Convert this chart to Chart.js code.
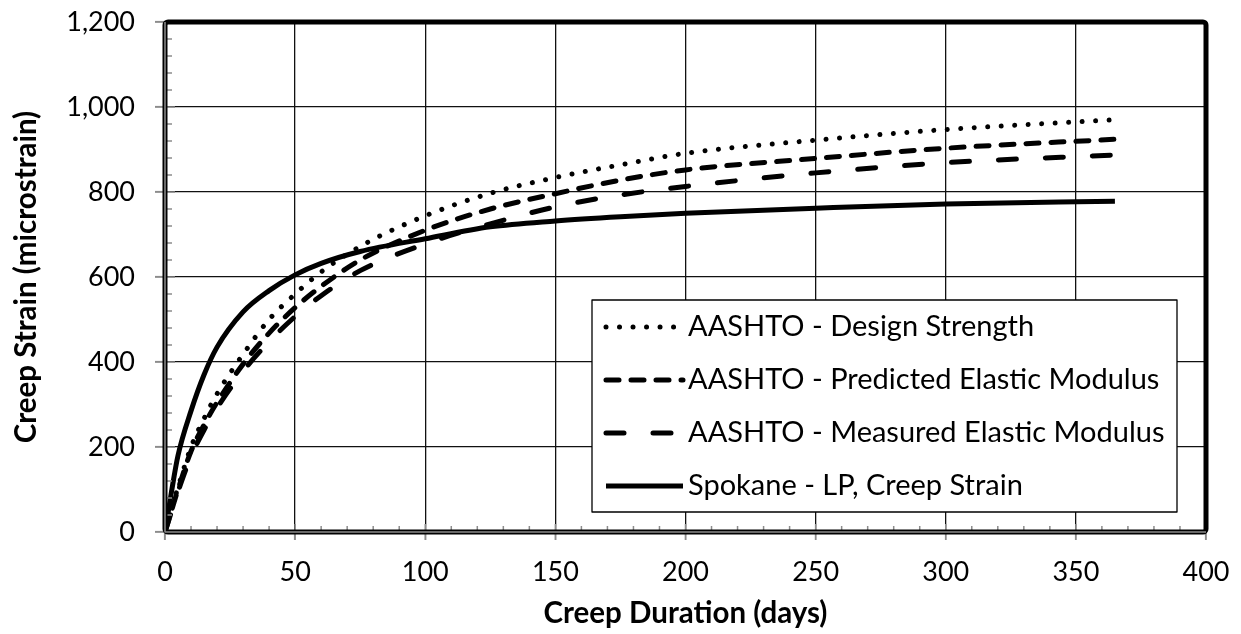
<!DOCTYPE html>
<html>
<head>
<meta charset="utf-8">
<script src="https://cdn.jsdelivr.net/npm/chart.js@4.4.0/dist/chart.umd.min.js"></script>
<style>
html, body { margin: 0; padding: 0; background: #fff; }
</style>
</head>
<body>
<canvas id="myChart" width="1241" height="634"></canvas>
<script>
// creep duration (days) shared by all curves
const days = [0, 2.5, 5, 10, 15, 20, 30, 40, 50, 60, 75, 100, 125, 150, 175, 200, 250, 300, 365]

const designStrength = [0, 55, 105, 200, 267, 325, 418, 500, 560, 612, 672, 744, 797, 834, 864, 891, 922, 947, 970]
const predictedModulus = [0, 50, 100, 190, 252, 305, 395, 468, 528, 578, 640, 710, 760, 796, 828, 852, 879, 903, 924]
const measuredModulus = [0, 48, 95, 178, 240, 292, 378, 448, 507, 556, 615, 678, 725, 765, 793, 813, 845, 869, 887]
const spokane = [0, 95, 180, 285, 370, 435, 518, 568, 605, 632, 660, 690, 718, 732, 742, 750, 762, 772, 778]

const seriesNames = [
    "AASHTO - Design Strength",
    "AASHTO - Predicted Elastic Modulus",
    "AASHTO - Measured Elastic Modulus",
    "Spokane - LP, Creep Strain"
]

const xTickValues = [0, 50, 100, 150, 200, 250, 300, 350, 400]
const yTickValues = [0, 200, 400, 600, 800, 1000, 1200]
const xMinorStep = 10
const yMinorStep = 40

const FONT = "Lato"

function pts(ys) {
    return days.map((d, i) => ({ x: d, y: ys[i] }))
}

function line(label, ys, dash) {
    return {
        label: label,
        data: pts(ys),
        borderColor: "#000",
        backgroundColor: "#000",
        borderWidth: 5,
        borderDash: dash,
        borderCapStyle: dash.length ? "round" : "butt",
        borderJoinStyle: "round",
        pointRadius: 0,
        cubicInterpolationMode: "monotone",
        fill: false
    }
}

// frame, minor ticks and the boxed legend
const decor = {
    id: "decor",
    afterDatasetsDraw(chart) {
        const ctx = chart.ctx
        const a = chart.chartArea
        const xs = chart.scales.x
        const ys = chart.scales.y
        ctx.save()

        // minor + major tick marks (grey)
        ctx.strokeStyle = "#8c8c8c"
        ctx.lineWidth = 1.5
        ctx.beginPath()
        for (let v = xs.min; v <= xs.max; v += xMinorStep) {
            const px = xs.getPixelForValue(v)
            const major = xTickValues.includes(v)
            ctx.moveTo(px, a.bottom - (major ? 8 : 6))
            ctx.lineTo(px, a.bottom + (major ? 8 : 0))
        }
        for (let v = ys.min; v <= ys.max; v += yMinorStep) {
            const py = ys.getPixelForValue(v)
            const major = yTickValues.includes(v)
            ctx.moveTo(a.left - (major ? 10 : 0), py)
            ctx.lineTo(a.left + (major ? 10 : 7), py)
        }
        ctx.stroke()

        // plot frame
        ctx.strokeStyle = "#000"
        ctx.lineWidth = 5
        ctx.lineJoin = "round"
        ctx.beginPath()
        ctx.roundRect(a.left, a.top, a.right - a.left, a.bottom - a.top, 3)
        ctx.stroke()
        ctx.lineWidth = 1.5
        ctx.strokeStyle = "#8c8c8c"
        ctx.beginPath()
        ctx.moveTo(a.left, a.top)
        ctx.lineTo(a.left, a.bottom)
        ctx.lineTo(a.right, a.bottom)
        ctx.stroke()

        // legend box
        const bx = 592, by = 300, bw = 585, bh = 212
        ctx.fillStyle = "#fff"
        ctx.fillRect(bx, by, bw, bh)
        ctx.strokeStyle = "#000"
        ctx.lineWidth = 1.3
        ctx.strokeRect(bx, by, bw, bh)

        ctx.font = "29px " + FONT
        ctx.textBaseline = "middle"
        ctx.textAlign = "left"
        chart.data.datasets.forEach((ds, i) => {
            const y = 327 + i * 53
            ctx.setLineDash(ds.borderDash)
            ctx.lineCap = ds.borderCapStyle
            ctx.lineWidth = ds.borderWidth
            ctx.strokeStyle = ds.borderColor
            ctx.beginPath()
            ctx.moveTo(606, y)
            ctx.lineTo(683, y)
            ctx.stroke()
            ctx.setLineDash([])
            ctx.fillStyle = "#000"
            ctx.fillText(ds.label, 688, y)
        })
        ctx.restore()
    }
}

new Chart("myChart", {
    type: "line",
    data: {
        datasets: [
            line(seriesNames[0], designStrength, [0.01, 13.5]),
            line(seriesNames[1], predictedModulus, [13, 12]),
            line(seriesNames[2], measuredModulus, [18, 29]),
            line(seriesNames[3], spokane, [])
        ]
    },
    options: {
        responsive: false,
        animation: false,
        devicePixelRatio: 1,
        layout: { padding: { top: 22, right: 35, left: 0, bottom: 0 } },
        plugins: {
            legend: { display: false },
            tooltip: { enabled: false }
        },
        scales: {
            x: {
                type: "linear",
                min: 0,
                max: 400,
                afterBuildTicks: (s) => { s.ticks = xTickValues.map(v => ({ value: v })) },
                afterFit: (s) => { s.height = 102; s.paddingLeft = 0; s.paddingRight = 0 },
                border: { display: false },
                grid: { color: "#111", lineWidth: 1.3, tickColor: "#8c8c8c", tickLength: 8, tickWidth: 1.5 },
                ticks: { color: "#000", font: { family: FONT, size: 27 }, padding: 16, maxRotation: 0 },
                title: {
                    display: true,
                    text: "Creep Duration (days)",
                    color: "#000",
                    font: { family: FONT, size: 29.5, weight: "bold", lineHeight: 1 },
                    padding: { top: 0, bottom: 6 }
                }
            },
            y: {
                type: "linear",
                min: 0,
                max: 1200,
                afterBuildTicks: (s) => { s.ticks = yTickValues.map(v => ({ value: v })) },
                afterFit: (s) => { s.width = 165; s.paddingTop = 0; s.paddingBottom = 0 },
                border: { display: false },
                grid: { color: "#111", lineWidth: 1.3, tickColor: "#8c8c8c", tickLength: 10, tickWidth: 1.5 },
                ticks: { color: "#000", font: { family: FONT, size: 27 }, padding: 20 },
                title: {
                    display: true,
                    text: "Creep Strain (microstrain)",
                    color: "#000",
                    font: { family: FONT, size: 29.5, weight: "bold", lineHeight: 1 },
                    padding: { top: 12, bottom: 0 }
                }
            }
        }
    },
    plugins: [decor]
})
</script>
</body>
</html>
